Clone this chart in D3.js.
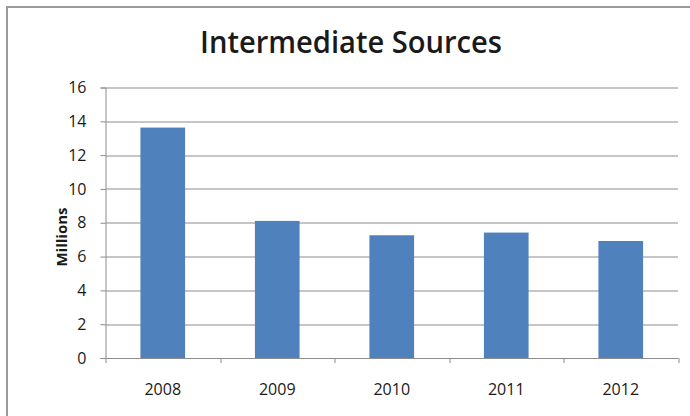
<!DOCTYPE html>
<html>
<head>
<meta charset="utf-8">
<script src="https://cdn.jsdelivr.net/npm/d3@7"></script>
<style>
  html, body { margin: 0; padding: 0; background: #fff; }
  svg { display: block; }
  text { font-family: "Open Sans", "Noto Sans", sans-serif; fill: #1a1a1a; }
</style>
</head>
<body>
<svg id="chart" width="690" height="416"></svg>
<script>
// Annual values (millions) for intermediate sources
const years = ["2008", "2009", "2010", "2011", "2012"];
const values = [13.63, 8.11, 7.26, 7.42, 6.92];
const yTicks = [0, 2, 4, 6, 8, 10, 12, 14, 16];
const chartTitle = "Intermediate Sources";
const yAxisTitle = "Millions";

const svg = d3.select("#chart");
const W = 690, H = 416;
const margin = { left: 105.5, right: 12, top: 87.5, bottom: 58 };
const plotW = W - margin.left - margin.right;
const plotH = H - margin.top - margin.bottom;
const tickFont = "16px";

// outer frame (left and top edges visible)
svg.append("path")
  .attr("d", `M7,${H} V7 H${W}`)
  .attr("fill", "none")
  .attr("stroke", "#9a9a9a")
  .attr("stroke-width", 2);

const x = d3.scaleBand().domain(years).range([0, plotW]).paddingInner(0.61).paddingOuter(0.305);
const y = d3.scaleLinear().domain([0, 16]).range([plotH, 0]);

const g = svg.append("g").attr("transform", `translate(${margin.left},${margin.top})`);

// horizontal gridlines
g.selectAll("line.grid")
  .data(yTicks.filter(d => d > 0))
  .join("line")
  .attr("class", "grid")
  .attr("x1", 0).attr("x2", plotW)
  .attr("y1", d => Math.round(y(d)) + 0.5).attr("y2", d => Math.round(y(d)) + 0.5)
  .attr("stroke", "#8c8c8c").attr("stroke-width", 1);

// bars
g.selectAll("rect.bar")
  .data(values)
  .join("rect")
  .attr("class", "bar")
  .attr("x", (d, i) => x(years[i]))
  .attr("width", x.bandwidth())
  .attr("y", d => y(d))
  .attr("height", d => plotH - y(d))
  .attr("fill", "#4f81bd");

// y axis
const yAxis = d3.axisLeft(y).tickValues(yTicks).tickSize(5).tickPadding(14).tickFormat(d3.format("d"));
const yg = g.append("g").call(yAxis);
yg.attr("font-size", null);
yg.select(".domain").attr("stroke", "#8c8c8c").attr("d", `M-5,${plotH + 0.5}H0.5V0.5H-5`);
yg.selectAll(".tick line").attr("stroke", "#8c8c8c");
yg.selectAll(".tick text").style("font-size", tickFont).attr("fill", "#1a1a1a").style("font-family", "'Open Sans', sans-serif");

// x axis with ticks at category boundaries
const xg = g.append("g").attr("transform", `translate(0,${plotH})`);
xg.append("line")
  .attr("x1", 0).attr("x2", plotW).attr("y1", 0.5).attr("y2", 0.5)
  .attr("stroke", "#8c8c8c");
const boundaries = d3.range(years.length + 1).map(i => i * plotW / years.length);
xg.selectAll("line.xt")
  .data(boundaries)
  .join("line")
  .attr("class", "xt")
  .attr("x1", d => Math.round(d) + 0.5).attr("x2", d => Math.round(d) + 0.5)
  .attr("y1", 0).attr("y2", 5)
  .attr("stroke", "#8c8c8c");
xg.selectAll("text.xl")
  .data(years)
  .join("text")
  .attr("class", "xl")
  .attr("x", d => x(d) + x.bandwidth() / 2)
  .attr("y", 37)
  .attr("text-anchor", "middle")
  .style("font-size", tickFont)
  .text(d => d);

// titles
svg.append("text")
  .attr("x", 351).attr("y", 53)
  .attr("text-anchor", "middle")
  .style("font-size", "31px")
  .style("font-weight", "600")
  .attr("textLength", 302)
  .attr("lengthAdjust", "spacingAndGlyphs")
  .text(chartTitle);

svg.append("text")
  .attr("transform", "translate(67,237) rotate(-90)")
  .attr("text-anchor", "middle")
  .style("font-size", "15px")
  .style("font-weight", "bold")
  .text(yAxisTitle);
</script>
</body>
</html>
